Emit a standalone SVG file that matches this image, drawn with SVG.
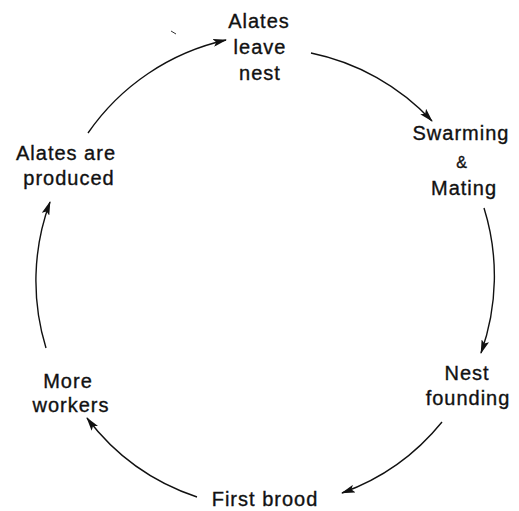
<svg xmlns="http://www.w3.org/2000/svg" width="519" height="511" viewBox="0 0 519 511">
<defs>
<style>
.lbl{font-family:"Liberation Sans",Arial,sans-serif;font-size:20px;letter-spacing:1px;fill:#111;stroke:#111;stroke-width:0.35;text-anchor:middle}
.amp{font-size:16px}
.conn{fill:none;stroke:#111;stroke-width:1.4;marker-end:url(#ah)}
</style>
<marker id="ah" viewBox="0 0 14 8" refX="13" refY="4" markerWidth="14" markerHeight="8" markerUnits="userSpaceOnUse" orient="auto">
<path d="M0,0 L14,4 L0,8 L3,4 Z" fill="#111"/>
</marker>
</defs>
<rect width="519" height="511" fill="#fff"/>
<g id="connectors">
<path class="conn" d="M88,133 A228,228 0 0,1 226,40"/>
<path class="conn" d="M311,53 A228,228 0 0,1 432,121"/>
<path class="conn" d="M484,208 A228,228 0 0,1 481,353"/>
<path class="conn" d="M442,422 A228,228 0 0,1 342,493"/>
<path class="conn" d="M197,497 A228,228 0 0,1 87,418"/>
<path class="conn" d="M46,348 A228,228 0 0,1 50,202"/>
<path d="M171,31 L176,34" stroke="#333" stroke-width="1" fill="none"/>
</g>
<g id="alates-leave-nest">
<text class="lbl" x="259" y="28">Alates</text>
<text class="lbl" x="260" y="54">leave</text>
<text class="lbl" x="260" y="80">nest</text>
</g>
<g id="swarming-mating">
<text class="lbl" x="461" y="140">Swarming</text>
<text class="lbl amp" x="462" y="168">&amp;</text>
<text class="lbl" x="464" y="195">Mating</text>
</g>
<g id="nest-founding">
<text class="lbl" x="467" y="380">Nest</text>
<text class="lbl" x="468" y="405">founding</text>
</g>
<g id="first-brood">
<text class="lbl" x="265" y="506">First brood</text>
</g>
<g id="more-workers">
<text class="lbl" x="68" y="388">More</text>
<text class="lbl" x="71" y="412">workers</text>
</g>
<g id="alates-are-produced">
<text class="lbl" x="66" y="160">Alates are</text>
<text class="lbl" x="69" y="185">produced</text>
</g>
</svg>
